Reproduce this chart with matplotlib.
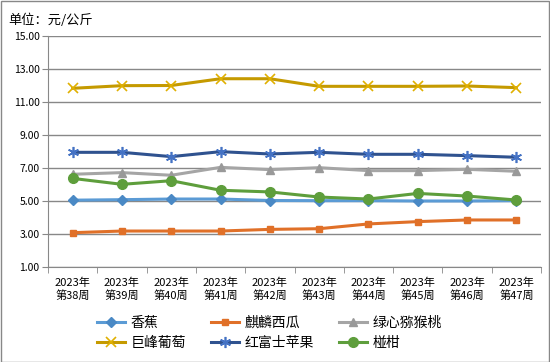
import numpy as np
import matplotlib.pyplot as plt

plt.rcParams['font.family'] = ['Noto Sans CJK SC', 'DejaVu Sans']

weeks = ['2023年\n第38周', '2023年\n第39周', '2023年\n第40周', '2023年\n第41周', '2023年\n第42周',
         '2023年\n第43周', '2023年\n第44周', '2023年\n第45周', '2023年\n第46周', '2023年\n第47周']

banana = [5.05, 5.08, 5.12, 5.12, 5.03, 5.02, 5.02, 5.00, 5.00, 5.02]
watermelon = [3.08, 3.18, 3.18, 3.18, 3.28, 3.32, 3.61, 3.75, 3.85, 3.85]
kiwi = [6.62, 6.72, 6.56, 7.04, 6.90, 7.02, 6.84, 6.84, 6.92, 6.80]
grape = [11.83, 11.99, 12.00, 12.41, 12.41, 11.95, 11.95, 11.95, 11.97, 11.87]
apple = [7.95, 7.95, 7.69, 7.99, 7.85, 7.95, 7.83, 7.83, 7.75, 7.65]
orange = [6.37, 6.01, 6.23, 5.65, 5.55, 5.24, 5.12, 5.46, 5.30, 5.06]

names = ['香蕉', '麒麟西瓜', '绿心猕猴桃', '巨峰葡萄', '红富士苹果', '椪柑']

fig = plt.figure(figsize=(5.5, 3.62), dpi=100)
ax = fig.add_axes([48/550, 1-267/362, 493/550, 231/362])

x = np.arange(len(weeks))
l1, = ax.plot(x, banana, color='#5B9BD5', lw=2.2, marker='D', ms=5, mfc='#4A89C5', mec='#4A89C5', label=names[0])
l2, = ax.plot(x, watermelon, color='#E07028', lw=2.2, marker='s', ms=5, mfc='#E07028', mec='#E07028', label=names[1])
l3, = ax.plot(x, kiwi, color='#A5A5A5', lw=2.2, marker='^', ms=6, mfc='#999999', mec='#999999', label=names[2])
l4, = ax.plot(x, grape, color='#C59A00', lw=2.2, marker='x', ms=7, mew=1.2, mec='#E0B000', label=names[3])
l5, = ax.plot(x, apple, color='#2F528F', lw=2.2, marker=(6, 2, 0), ms=8, mew=1.2, mec='#4472C4', label=names[4])
l6, = ax.plot(x, orange, color='#5E9E3C', lw=2.2, marker='o', ms=7, mfc='#5E9E3C', mec='#5E9E3C', label=names[5])

ax.set_xlim(-0.5, len(weeks) - 0.5)
ax.set_ylim(1, 15)
ax.set_yticks(np.arange(1, 16, 2))
ax.set_yticklabels(['%.2f' % v for v in np.arange(1, 16, 2)], fontsize=7.5)
ax.yaxis.grid(True, color='#888888', lw=1)
ax.set_axisbelow(True)
ax.set_xticks(x)
ax.set_xticklabels(weeks, fontsize=8, linespacing=1.15)
ax.set_xticks(np.arange(-0.5, len(weeks)), minor=True)
ax.tick_params(axis='x', which='major', length=0, pad=8)
ax.tick_params(axis='x', which='minor', length=4, color='#888888')
ax.tick_params(axis='y', length=4, color='#888888', pad=2)
for s in ['top', 'right']:
    ax.spines[s].set_visible(False)
ax.spines['left'].set_color('#888888')
ax.spines['bottom'].set_color('#888888')

fig.text(8/550, 1-20/362, '单位：元/公斤', fontsize=9.5, va='center')

# row-major order like the original legend
handles = [l1, l4, l2, l5, l3, l6]
fig.legend(handles, [h.get_label() for h in handles], loc='center',
           bbox_to_anchor=(0.49, 1-333/362), ncol=3, frameon=False,
           fontsize=10, handlelength=2.0, columnspacing=1.8, handletextpad=0.4,
           labelspacing=0.45)

fig.patches.append(plt.Rectangle((0.001, 0.001), 0.997, 0.997, transform=fig.transFigure,
                                 fill=False, edgecolor='#888888', lw=1))

fig.savefig('out.png', dpi=100)
